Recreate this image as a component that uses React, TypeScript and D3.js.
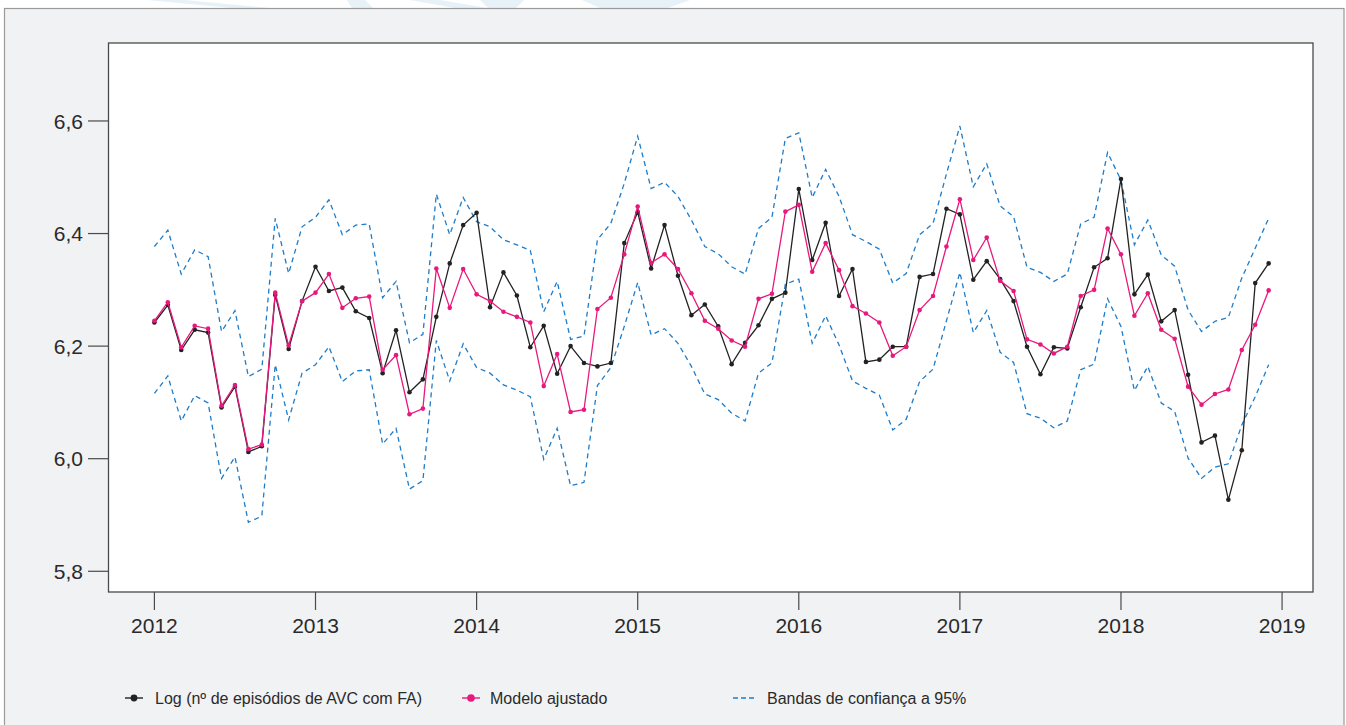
import React, { useEffect, useRef } from "react";
import * as d3 from "d3";

const startYear = 2012;
const yearTicks = [2012, 2013, 2014, 2015, 2016, 2017, 2018, 2019];
const yTicks = [5.8, 6.0, 6.2, 6.4, 6.6];

const logSeries = [
  6.242, 6.273, 6.193, 6.229, 6.224, 6.091, 6.128, 6.012, 6.022, 6.291, 6.195, 6.280,
  6.341, 6.298, 6.304, 6.262, 6.250, 6.152, 6.228, 6.118, 6.141, 6.252, 6.347, 6.415,
  6.437, 6.269, 6.331, 6.290, 6.198, 6.236, 6.151, 6.200, 6.170, 6.164, 6.170, 6.383,
  6.438, 6.338, 6.415, 6.325, 6.255, 6.274, 6.235, 6.168, 6.206, 6.237, 6.284, 6.295,
  6.479, 6.353, 6.419, 6.289, 6.337, 6.172, 6.176, 6.199, 6.199, 6.323, 6.328, 6.444,
  6.434, 6.318, 6.351, 6.319, 6.280, 6.199, 6.150, 6.198, 6.196, 6.269, 6.340, 6.356,
  6.497, 6.292, 6.327, 6.244, 6.264, 6.149, 6.029, 6.041, 5.927, 6.015, 6.312, 6.347,
];

const fitted = [
  6.245, 6.278, 6.198, 6.236, 6.231, 6.094, 6.131, 6.017, 6.025, 6.295, 6.201, 6.280,
  6.295, 6.328, 6.268, 6.285, 6.288, 6.158, 6.184, 6.079, 6.089, 6.338, 6.268, 6.337,
  6.292, 6.280, 6.261, 6.252, 6.242, 6.129, 6.186, 6.083, 6.087, 6.266, 6.286, 6.363,
  6.448, 6.348, 6.363, 6.337, 6.294, 6.245, 6.231, 6.210, 6.199, 6.284, 6.293, 6.439,
  6.451, 6.332, 6.383, 6.335, 6.271, 6.258, 6.242, 6.183, 6.199, 6.264, 6.289, 6.377,
  6.461, 6.353, 6.393, 6.316, 6.298, 6.212, 6.203, 6.187, 6.199, 6.289, 6.300, 6.409,
  6.363, 6.254, 6.294, 6.229, 6.213, 6.128, 6.096, 6.115, 6.123, 6.193, 6.238, 6.299,
];

const upperBand = [
  6.377, 6.406, 6.328, 6.371, 6.359, 6.226, 6.263, 6.146, 6.159, 6.427, 6.329, 6.412,
  6.429, 6.460, 6.398, 6.415, 6.417, 6.286, 6.315, 6.206, 6.221, 6.470, 6.398, 6.464,
  6.421, 6.412, 6.389, 6.380, 6.370, 6.261, 6.315, 6.212, 6.218, 6.389, 6.418, 6.489,
  6.573, 6.480, 6.491, 6.466, 6.424, 6.377, 6.364, 6.341, 6.328, 6.409, 6.429, 6.569,
  6.579, 6.464, 6.514, 6.466, 6.398, 6.386, 6.372, 6.312, 6.329, 6.398, 6.418, 6.506,
  6.591, 6.483, 6.524, 6.449, 6.430, 6.340, 6.331, 6.315, 6.328, 6.417, 6.429, 6.544,
  6.495, 6.380, 6.424, 6.362, 6.342, 6.264, 6.226, 6.244, 6.251, 6.321, 6.374, 6.427,
];

const lowerBand = [
  6.116, 6.147, 6.067, 6.112, 6.099, 5.965, 6.003, 5.887, 5.898, 6.167, 6.069, 6.152,
  6.167, 6.199, 6.137, 6.156, 6.158, 6.026, 6.054, 5.946, 5.961, 6.210, 6.138, 6.204,
  6.162, 6.152, 6.131, 6.122, 6.110, 5.999, 6.054, 5.952, 5.958, 6.130, 6.162, 6.235,
  6.313, 6.220, 6.231, 6.205, 6.164, 6.115, 6.105, 6.081, 6.067, 6.152, 6.170, 6.310,
  6.319, 6.205, 6.254, 6.202, 6.138, 6.125, 6.113, 6.051, 6.070, 6.137, 6.159, 6.245,
  6.331, 6.224, 6.263, 6.189, 6.171, 6.080, 6.072, 6.055, 6.067, 6.158, 6.168, 6.284,
  6.235, 6.121, 6.164, 6.099, 6.084, 6.001, 5.965, 5.985, 5.991, 6.060, 6.110, 6.167,
];

const legendLabels = [
  "Log (nº de episódios de AVC com FA)",
  "Modelo ajustado",
  "Bandas de confiança a 95%",
];

const W = 1346;
const H = 725;
const FONT = "'Liberation Sans', Arial, Helvetica, sans-serif";
const BLACK = "#222222";
const PINK = "#e8197d";
const BLUE = "#1f7cc8";

export default function App() {
  const ref = useRef<SVGSVGElement | null>(null);

  useEffect(() => {
    const svg = d3.select(ref.current);
    svg.selectAll("*").remove();

    // page background + watermark strip
    svg.append("rect").attr("x", 0).attr("y", 0).attr("width", W).attr("height", H).attr("fill", "#ffffff");
    const wm = [
      [[147, 0], [185, 0], [270, 8], [232, 8]],
      [[347, 0], [365, 0], [373, 8], [352, 8]],
      [[410, 0], [440, 0], [487, 8], [455, 8]],
      [[512, 0], [524, 0], [516, 8], [506, 8]],
      [[480, 0], [522, 0], [515, 8], [488, 8]],
      [[582, 0], [690, 0], [668, 8], [600, 8]],
    ];
    wm.forEach((p) =>
      svg.append("polygon").attr("points", p.map((q) => q.join(",")).join(" ")).attr("fill", "#e6f1f8")
    );
    svg.append("rect")
      .attr("x", 4.5).attr("y", 8.5).attr("width", 1339.5).attr("height", H)
      .attr("fill", "#f1f2f4").attr("stroke", "#9a9a9a").attr("stroke-width", 1.2);

    const x = d3.scaleLinear().domain([2011.715, 2019.192]).range([108.5, 1313]);
    const y = d3.scaleLinear().domain([5.7632, 6.7385]).range([592, 43]);

    // plot area
    svg.append("rect")
      .attr("x", 108.5).attr("y", 43).attr("width", 1313 - 108.5).attr("height", 592 - 43)
      .attr("fill", "#ffffff").attr("stroke", "#4a4a4a").attr("stroke-width", 1.3);

    // y axis
    const gy = svg.append("g");
    yTicks.forEach((t) => {
      gy.append("line").attr("x1", 88).attr("x2", 108.5).attr("y1", y(t)).attr("y2", y(t))
        .attr("stroke", "#4a4a4a").attr("stroke-width", 1.2);
      gy.append("text").attr("x", 83).attr("y", y(t)).attr("dy", "0.36em")
        .attr("text-anchor", "end").attr("font-family", FONT).attr("font-size", 21)
        .attr("fill", "#2a2a2a").text(d3.format(".1f")(t).replace(".", ","));
    });

    // x axis
    const gx = svg.append("g");
    yearTicks.forEach((t) => {
      gx.append("line").attr("x1", x(t)).attr("x2", x(t)).attr("y1", 592).attr("y2", 610)
        .attr("stroke", "#4a4a4a").attr("stroke-width", 1.2);
      gx.append("text").attr("x", x(t)).attr("y", 633)
        .attr("text-anchor", "middle").attr("font-family", FONT).attr("font-size", 21)
        .attr("fill", "#2a2a2a").text(String(t));
    });

    const tx = (i: number) => x(startYear + i / 12);
    const line = d3.line<number>().x((_, i) => tx(i)).y((d) => y(d));

    [upperBand, lowerBand].forEach((band) => {
      svg.append("path").attr("d", line(band) as string).attr("fill", "none")
        .attr("stroke", BLUE).attr("stroke-width", 1.3).attr("stroke-dasharray", "5,4");
    });

    const drawSeries = (data: number[], color: string) => {
      svg.append("path").attr("d", line(data) as string).attr("fill", "none")
        .attr("stroke", color).attr("stroke-width", 1.3);
      svg.append("g").selectAll("circle").data(data).enter().append("circle")
        .attr("cx", (_, i) => tx(i)).attr("cy", (d) => y(d)).attr("r", 2.3).attr("fill", color);
    };
    drawSeries(logSeries, BLACK);
    drawSeries(fitted, PINK);

    // legend
    const ly = 698;
    const lg = svg.append("g");
    const items = [
      { x1: 125, x2: 143, tx: 155, color: BLACK, dot: true, dash: null as string | null },
      { x1: 462, x2: 480, tx: 490, color: PINK, dot: true, dash: null },
      { x1: 733, x2: 755, tx: 767, color: BLUE, dot: false, dash: "5,3" },
    ];
    items.forEach((it, k) => {
      lg.append("line").attr("x1", it.x1).attr("x2", it.x2).attr("y1", ly).attr("y2", ly)
        .attr("stroke", it.color).attr("stroke-width", 1.4)
        .attr("stroke-dasharray", it.dash ?? null);
      if (it.dot) {
        lg.append("circle").attr("cx", (it.x1 + it.x2) / 2).attr("cy", ly).attr("r", it.color === PINK ? 3.8 : 3.4)
          .attr("fill", it.color);
      }
      lg.append("text").attr("x", it.tx).attr("y", ly).attr("dy", "0.36em")
        .attr("font-family", FONT).attr("font-size", 16).attr("fill", "#2a2a2a")
        .text(legendLabels[k]);
    });
  }, []);

  return (
    <div style={{ position: "fixed", left: 0, top: 0 }}>
      <svg ref={ref} width={W} height={H} style={{ display: "block" }} />
    </div>
  );
}
